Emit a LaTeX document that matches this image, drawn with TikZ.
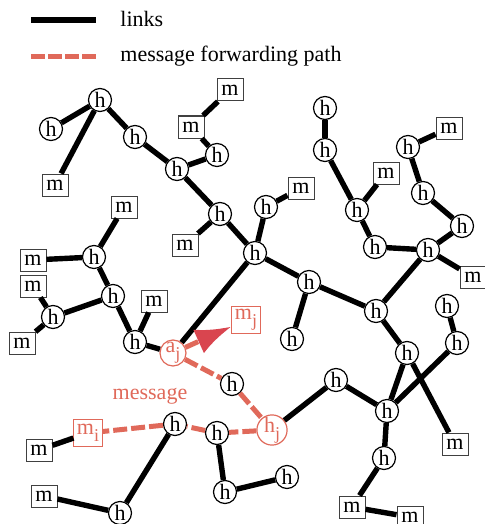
\documentclass[tikz,border=0pt]{standalone}
\usepackage{fontspec}
\setmainfont{Liberation Serif}
\usetikzlibrary{arrows.meta, positioning}
\definecolor{fwdRed}{HTML}{E0695A}
\definecolor{arrRed}{HTML}{D9454F}
\tikzset{
    hostNode/.style={circle, draw, line width=0.6pt, fill=white, inner sep=0pt, minimum size=11.5pt},
    msgNode/.style={rectangle, draw=black!75, line width=0.5pt, fill=white, inner sep=1.5pt, minimum width=13pt, minimum height=11pt},
    redHost/.style={hostNode, draw=fwdRed, text=fwdRed, minimum size=13pt},
    redMsg/.style={msgNode, draw=fwdRed, text=fwdRed, minimum height=13.5pt},
    linkEdge/.style={line width=2.7pt},
    fwdEdge/.style={draw=fwdRed, line width=2.5pt, dash pattern=on 7pt off 2pt},
    fwdArrow/.style={fwdEdge, -{Latex[length=18pt, width=13pt, color=arrRed]}},
    legendText/.style={anchor=base west, inner sep=0pt},
}
\newcommand{\drawLink}[3][linkEdge]{
    \draw[#1] (#2) -- (#3);
}
\newcommand{\drawFwd}[2]{\drawLink[fwdEdge]{#1}{#2}}
% lowered index letter, nearly full size
\newcommand{\idx}[1]{\raisebox{-0.3em}{\fontsize{9}{9}\selectfont #1}}

\begin{document}
\begin{tikzpicture}[x=0.5pt, y=-0.5pt, font=\fontsize{11}{13}\selectfont]
        \useasboundingbox (0,0) rectangle (485,524);

        \coordinate (lk1) at (31,20);
        \coordinate (lk2) at (96,20);
        \coordinate (fw1) at (31,57);
        \coordinate (fw2) at (96,57);
        \drawLink{lk1}{lk2}
        \draw[fwdEdge, dash pattern=on 7pt off 1.5pt] (fw1) -- (fw2);
        \node[legendText] (lkText) at (120,27) {links};
        \node[legendText] (fwText) at (120,62) {message forwarding path};

        \node[hostNode] (h1) at (100,100) {h};
        \node[hostNode] (h2) at (51,129) {h};
        \node[hostNode] (h3) at (135,137) {h};
        \node[hostNode] (h4) at (177,169) {h};
        \node[hostNode] (h5) at (217,155) {h};
        \node[hostNode] (h6) at (220,214) {h};
        \node[hostNode] (h7) at (266,207) {h};
        \node[hostNode] (h8) at (255,253) {h};
        \node[hostNode] (h9) at (325,108) {h};
        \node[hostNode] (h10) at (325,150) {h};
        \node[hostNode] (h11) at (357,210) {h};
        \node[hostNode] (h12) at (375,247) {h};
        \node[hostNode] (h13) at (408,147) {h};
        \node[hostNode] (h14) at (423,193) {h};
        \node[hostNode] (h15) at (462,226) {h};
        \node[hostNode] (h16) at (428,250) {h};
        \node[hostNode] (h17) at (94,257) {h};
        \node[hostNode] (h18) at (113,296) {h};
        \node[hostNode] (h19) at (53,317) {h};
        \node[hostNode] (h20) at (135,342) {h};
        \node[hostNode] (h21) at (309,282) {h};
        \node[hostNode] (h22) at (292,339) {h};
        \node[hostNode] (h23) at (376,311) {h};
        \node[hostNode] (h24) at (447,306) {h};
        \node[hostNode] (h25) at (457,343) {h};
        \node[hostNode] (h26) at (407,353) {h};
        \node[hostNode] (h27) at (232,384) {h};
        \node[hostNode] (h28) at (336,380) {h};
        \node[hostNode] (h29) at (387,411) {h};
        \node[hostNode] (h30) at (175,424) {h};
        \node[hostNode] (h31) at (217,433) {h};
        \node[hostNode] (h32) at (384,458) {h};
        \node[hostNode] (h33) at (287,477) {h};
        \node[hostNode] (h34) at (225,492) {h};
        \node[hostNode] (h35) at (120,513) {h};
        \node[redHost] (aj) at (173,353) {a\idx{j}};
        \node[redHost] (hj) at (272,430) {h\idx{j}};

        \node[msgNode] (m1) at (230,90) {m};
        \node[msgNode] (m2) at (191,127) {m};
        \node[msgNode] (m3) at (449,128) {m};
        \node[msgNode] (m4) at (386,173) {m};
        \node[msgNode] (m5) at (55,185) {m};
        \node[msgNode] (m6) at (301,188) {m};
        \node[msgNode] (m7) at (124,207) {m};
        \node[msgNode] (m8) at (185,245) {m};
        \node[msgNode] (m9) at (33,260) {m};
        \node[msgNode] (m10) at (473,277) {m};
        \node[msgNode] (m11) at (33,286) {m};
        \node[msgNode] (m12) at (154,301) {m};
        \node[msgNode] (m13) at (22,343) {m};
        \node[msgNode] (m14) at (455,444) {m};
        \node[msgNode] (m15) at (39,450) {m};
        \node[msgNode] (m16) at (44,496) {m};
        \node[msgNode] (m17) at (352,507) {m};
        \node[msgNode] (m18) at (410,517) {m};
        \node[redMsg] (mj) at (246,320) {m\idx{j}};
        \node[redMsg] (mi) at (88,433) {m\idx{i}};

        \node[text=fwdRed] (msgText) at (150,396) {message};

        \drawLink{h1}{h2}
        \drawLink{h1}{m5}
        \drawLink{h1}{h3}
        \drawLink{h3}{h4}
        \drawLink{h4}{h5}
        \drawLink{h5}{m2}
        \drawLink{m2}{m1}
        \drawLink{h4}{h6}
        \drawLink{h6}{m8}
        \drawLink{h6}{h8}
        \drawLink{h7}{m6}
        \drawLink{h7}{h8}
        \drawLink{h8}{h21}
        \drawLink{h8}{aj}
        \drawLink{h9}{h10}
        \drawLink{h10}{h11}
        \drawLink{h11}{m4}
        \drawLink{h11}{h12}
        \drawLink{h12}{h16}
        \drawLink{h16}{h15}
        \drawLink{h15}{h14}
        \drawLink{h14}{h13}
        \drawLink{h13}{m3}
        \drawLink{h16}{m10}
        \drawLink{h16}{h23}
        \drawLink{h21}{h23}
        \drawLink{h21}{h22}
        \drawLink{h23}{h26}
        \drawLink{h26}{h29}
        \drawLink{h26}{m14}
        \drawLink{h24}{h25}
        \drawLink{h25}{h29}
        \drawLink{h28}{h29}
        \drawLink{hj}{h28}
        \drawLink{h29}{h32}
        \drawLink{h32}{m17}
        \drawLink{m17}{m18}
        \drawLink{m7}{h17}
        \drawLink{m9}{h17}
        \drawLink{h17}{h18}
        \drawLink{h18}{h19}
        \drawLink{m11}{h19}
        \drawLink{h19}{m13}
        \drawLink{h18}{h20}
        \drawLink{h20}{m12}
        \drawLink{h20}{aj}
        \drawLink{m15}{mi}
        \drawLink{m16}{h35}
        \drawLink{h35}{h30}
        \drawLink{h31}{h34}
        \drawLink{h34}{h33}

        \drawFwd{aj}{h27}
        \drawFwd{h27}{hj}
        \drawFwd{hj}{h31}
        \drawFwd{h31}{h30}
        \drawFwd{h30}{mi}
        \draw[fwdArrow] (aj) -- (mj);

    \end{tikzpicture}
\end{document}
